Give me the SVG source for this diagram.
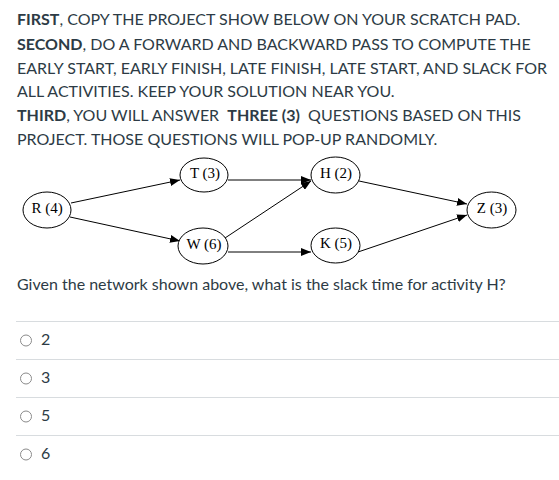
<svg xmlns="http://www.w3.org/2000/svg" width="559" height="480" viewBox="0 0 559 480">
<style>
.t{font-family:Lato,"Noto Sans",sans-serif;font-size:16px;fill:#2d3b45;white-space:pre}
.b{font-weight:bold}
.n ellipse{fill:#fff;stroke:#000;stroke-width:1}
.n text{font-family:"Liberation Serif","Times New Roman",serif;font-size:15px;fill:#000;text-anchor:middle}
.c line{stroke:#000;stroke-width:1}
.sep{stroke:#d8dcdf;stroke-width:1}
.r{fill:#fff;stroke:#8b8b8b;stroke-width:1}
</style>
<defs>
<marker id="ah" markerWidth="10" markerHeight="8" refX="10" refY="4" orient="auto" markerUnits="userSpaceOnUse">
<path d="M0,0 L10,4 L0,8 Z" fill="#000"/>
</marker>
</defs>
<rect width="559" height="480" fill="#fff"/>
<g id="instructions">
<text class="t" x="17" y="25"><tspan class="b">FIRST</tspan>, COPY THE PROJECT SHOW BELOW ON YOUR SCRATCH PAD.</text>
<text class="t" x="17" y="50"><tspan class="b">SECOND</tspan>, DO A FORWARD AND BACKWARD PASS TO COMPUTE THE</text>
<text class="t" x="17" y="74">EARLY START, EARLY FINISH, LATE FINISH, LATE START, AND SLACK FOR</text>
<text class="t" x="17" y="97">ALL ACTIVITIES. KEEP YOUR SOLUTION NEAR YOU.</text>
<text class="t" x="17" y="121"><tspan class="b">THIRD</tspan>, YOU WILL ANSWER  <tspan class="b">THREE (3)</tspan>  QUESTIONS BASED ON THIS</text>
<text class="t" x="17" y="145">PROJECT. THOSE QUESTIONS WILL POP-UP RANDOMLY.</text>
</g>
<g id="connectors" class="c">
<line x1="71" y1="203" x2="180" y2="180" marker-end="url(#ah)"/>
<line x1="70" y1="217" x2="180" y2="241" marker-end="url(#ah)"/>
<line x1="228" y1="180" x2="311" y2="180" marker-end="url(#ah)"/>
<line x1="225" y1="238" x2="311" y2="181" marker-end="url(#ah)"/>
<line x1="228" y1="252" x2="311" y2="252" marker-end="url(#ah)"/>
<line x1="359" y1="181" x2="467" y2="204" marker-end="url(#ah)"/>
<line x1="358" y1="252" x2="467" y2="215" marker-end="url(#ah)"/>
</g>
<g id="node-R" class="n"><ellipse cx="47" cy="210" rx="24" ry="18"/><text x="47" y="212.5">R (4)</text></g>
<g id="node-T" class="n"><ellipse cx="204" cy="175" rx="24" ry="17"/><text x="205" y="177.5">T (3)</text></g>
<g id="node-W" class="n"><ellipse cx="203" cy="246" rx="25" ry="18"/><text x="204" y="248.5">W (6)</text></g>
<g id="node-H" class="n"><ellipse cx="335.5" cy="175" rx="24.5" ry="18"/><text x="336" y="177.5">H (2)</text></g>
<g id="node-K" class="n"><ellipse cx="335.5" cy="245.5" rx="24.5" ry="17.5"/><text x="336" y="248">K (5)</text></g>
<g id="node-Z" class="n"><ellipse cx="491.5" cy="210" rx="24.5" ry="18"/><text x="492" y="212.5">Z (3)</text></g>
<g id="question">
<text class="t" x="17" y="290">Given the network shown above, what is the slack time for activity H?</text>
</g>
<g id="answers">
<line class="sep" x1="16" y1="321.5" x2="559" y2="321.5"/>
<line class="sep" x1="16" y1="359.5" x2="559" y2="359.5"/>
<line class="sep" x1="16" y1="397.5" x2="559" y2="397.5"/>
<line class="sep" x1="16" y1="435.5" x2="559" y2="435.5"/>
<circle class="r" cx="26" cy="340.5" r="5.5"/>
<circle class="r" cx="26" cy="378.5" r="5.5"/>
<circle class="r" cx="26" cy="416.5" r="5.5"/>
<circle class="r" cx="26" cy="454.5" r="5.5"/>
<text class="t" x="41" y="345">2</text>
<text class="t" x="41" y="383">3</text>
<text class="t" x="41" y="421">5</text>
<text class="t" x="41" y="459">6</text>
</g>
</svg>
